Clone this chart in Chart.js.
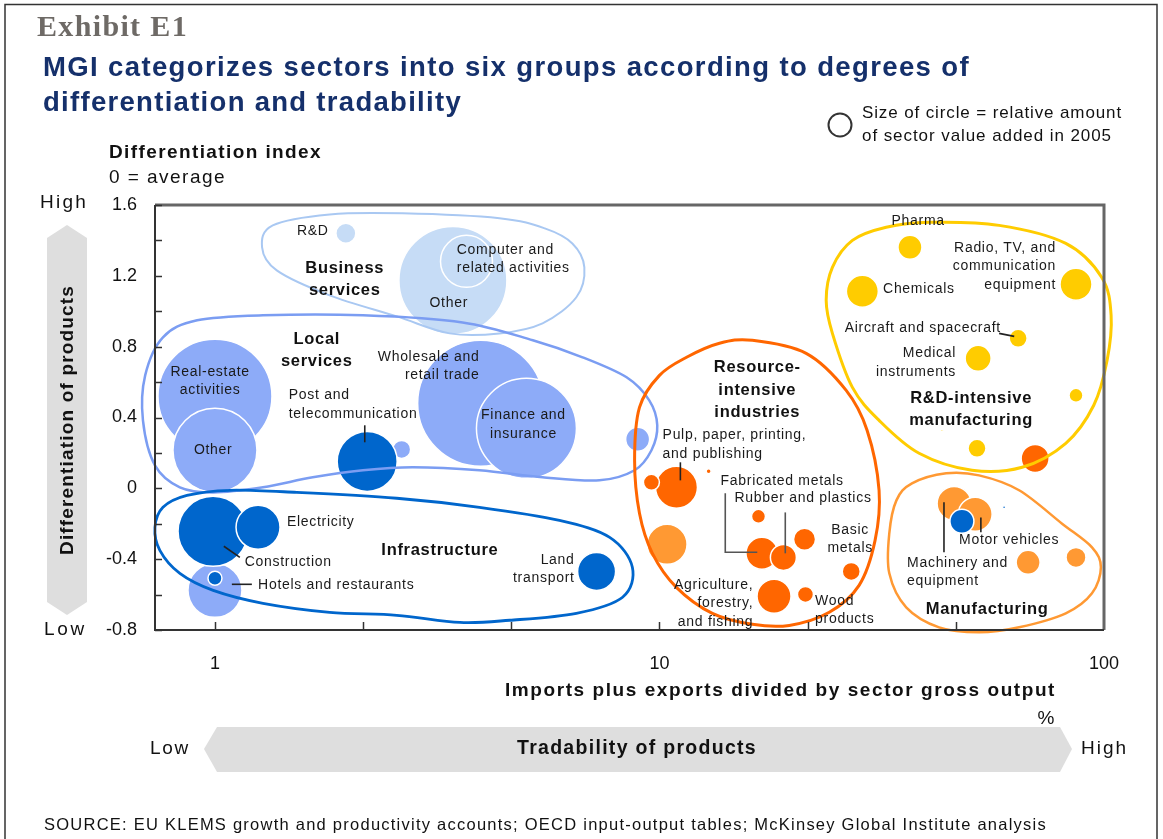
<!DOCTYPE html>
<html>
<head>
<meta charset="utf-8">
<script src="https://cdn.jsdelivr.net/npm/chart.js@4.4.1/dist/chart.umd.min.js"></script>
<style>
html,body{margin:0;padding:0;background:#fff;}
canvas{display:block;}
</style>
</head>
<body>
<canvas id="c" width="1163" height="839"></canvas>
<script>
// ---------------- DATA ----------------
// x = imports plus exports divided by sector gross output (%), y = differentiation index,
// size = bubble radius standing for relative sector value added (2005)
const businessNames = ['Other business services', 'Computer and related activities', 'R&D'];
const businessX = [3.43, 3.68, 1.97];
const businessY = [1.174, 1.282, 1.44];
const businessSize = [54, 26, 10];

const localNames = ['Real-estate activities', 'Other local services', 'Wholesale and retail trade', 'Finance and insurance', 'Hotels and restaurants', 'Other local sector', 'Other local sector 2'];
const localX = [1.0, 1.0, 3.96, 5.02, 1.0, 2.63, 8.93];
const localY = [0.52, 0.215, 0.48, 0.339, -0.576, 0.22, 0.277];
const localSize = [57, 42, 63, 50, 27, 9, 12];

const infraNames = ['Post and telecommunication', 'Construction', 'Electricity', 'Other infrastructure', 'Land transport', 'Other infrastructure 2', 'Other infrastructure 3'];
const infraX = [2.2, 0.99, 1.25, 1.0, 7.22, 47.9, 59.6];
const infraY = [0.152, -0.243, -0.22, -0.508, -0.469, -0.186, -0.107];
const infraSize = [30, 35, 22, 7, 19, 12, 1.5];

const resourceNames = ['Pulp, paper, printing, and publishing', 'Other resource 1', 'Other resource 2', 'Other resource 3', 'Fabricated metals', 'Rubber and plastics', 'Other resource 4', 'Basic metals', 'Agriculture, forestry, and fishing', 'Wood products', 'Other resource 5'];
const resourceX = [10.92, 9.59, 12.9, 16.7, 17.0, 19.0, 21.2, 27.0, 18.1, 21.3, 70.0];
const resourceY = [0.006, 0.034, 0.096, -0.158, -0.367, -0.39, -0.288, -0.469, -0.61, -0.599, 0.169];
const resourceSize = [21, 8, 2.5, 7, 16, 13, 11, 9, 17, 8, 14];

const rndNames = ['Pharma', 'Chemicals', 'Radio, TV, and communication equipment', 'Aircraft and spacecraft', 'Medical instruments', 'Other R&D-intensive 1', 'Other R&D-intensive 2', 'Other R&D-intensive 3'];
const rndX = [36.6, 28.6, 86.5, 64.1, 52.1, 86.5, 51.8, 43.2];
const rndY = [1.361, 1.113, 1.152, 0.847, 0.734, 0.525, 0.226, 0.327];
const rndSize = [12, 16, 16, 9, 13, 7, 9, 1.2];

const manufNames = ['Machinery and equipment', 'Motor vehicles', 'Other manufacturing 1', 'Other manufacturing 2', 'Other manufacturing 3'];
const manufX = [46.0, 51.3, 67.5, 86.5, 10.4];
const manufY = [-0.085, -0.147, -0.418, -0.39, -0.316];
const manufSize = [17, 17, 12, 10, 20];

const xTickValues = [1, 10, 100];
const xTickLabels = ['1', '10', '100'];
const yTickValues = [-0.8, -0.4, 0, 0.4, 0.8, 1.2, 1.6];
const yTickLabels = ['-0.8', '-0.4', '0', '0.4', '0.8', '1.2', '1.6'];

// ---------------- ANNOTATIONS (data units: [log10(x), y]) ----------------
const groupOutlines = [
  { color: '#a9c8f2', width: 2, pts: [[0.106,1.361],[0.130,1.485],[0.258,1.547],[0.422,1.553],[0.640,1.525],[0.742,1.468],[0.804,1.383],[0.831,1.248],[0.813,1.079],[0.737,0.932],[0.640,0.875],[0.528,0.875],[0.409,0.971],[0.258,1.090],[0.139,1.231]] },
  { color: '#7b9df2', width: 2.5, pts: [[-0.117,0.853],[-0.040,0.949],[0.108,0.977],[0.333,0.977],[0.557,0.937],[0.715,0.836],[0.827,0.740],[0.926,0.627],[0.977,0.497],[0.995,0.356],[0.982,0.215],[0.944,0.102],[0.865,0.045],[0.737,0.062],[0.595,0.102],[0.445,0.119],[0.333,0.102],[0.220,0.062],[0.108,0.006],[-0.004,-0.023],[-0.079,0.006],[-0.135,0.130],[-0.162,0.384],[-0.157,0.638]] },
  { color: '#0066cc', width: 2.8, pts: [[-0.135,-0.220],[-0.117,-0.107],[-0.063,-0.040],[0.034,-0.011],[0.184,-0.023],[0.409,-0.056],[0.595,-0.107],[0.775,-0.181],[0.888,-0.277],[0.939,-0.446],[0.917,-0.615],[0.813,-0.706],[0.663,-0.745],[0.551,-0.757],[0.409,-0.717],[0.258,-0.700],[0.108,-0.649],[-0.004,-0.576],[-0.079,-0.480],[-0.124,-0.350]] },
  { color: '#ff6600', width: 3, pts: [[0.944,0.158],[0.955,0.457],[1.000,0.638],[1.061,0.740],[1.135,0.819],[1.209,0.836],[1.330,0.762],[1.420,0.553],[1.467,0.328],[1.494,-0.011],[1.485,-0.294],[1.449,-0.548],[1.382,-0.700],[1.292,-0.774],[1.209,-0.768],[1.119,-0.706],[1.038,-0.559],[0.984,-0.367],[0.955,-0.141]] },
  { color: '#ffcc00', width: 3, pts: [[1.375,1.062],[1.389,1.248],[1.434,1.400],[1.510,1.474],[1.607,1.502],[1.764,1.485],[1.914,1.383],[1.995,1.191],[2.016,0.977],[2.007,0.723],[1.977,0.469],[1.914,0.254],[1.816,0.119],[1.703,0.102],[1.584,0.198],[1.494,0.384],[1.434,0.570],[1.389,0.875]] },
  { color: '#ff9933', width: 2.5, pts: [[1.568,0.028],[1.645,0.085],[1.719,0.073],[1.809,-0.011],[1.905,-0.198],[1.973,-0.333],[1.993,-0.446],[1.973,-0.593],[1.914,-0.706],[1.809,-0.785],[1.719,-0.813],[1.629,-0.785],[1.555,-0.672],[1.517,-0.480],[1.517,-0.254],[1.533,-0.068]] }
];

const sectorLabels = [
  [['R&D'], 0.220, 1.451, 'center'],
  [['Computer and', 'related activities'], 0.544, 1.293, 'left'],
  [['Other'], 0.526, 1.045, 'center'],
  [['Real-estate', 'activities'], -0.011, 0.604, 'center'],
  [['Other'], -0.004, 0.215, 'center'],
  [['Wholesale and', 'retail trade'], 0.595, 0.689, 'right'],
  [['Post and', 'telecommunication'], 0.166, 0.474, 'left'],
  [['Finance and', 'insurance'], 0.694, 0.361, 'center'],
  [['Electricity'], 0.162, -0.192, 'left'],
  [['Construction'], 0.067, -0.418, 'left'],
  [['Hotels and restaurants'], 0.097, -0.548, 'left'],
  [['Land', 'transport'], 0.809, -0.457, 'right'],
  [['Pulp, paper, printing,', 'and publishing'], 1.007, 0.248, 'left'],
  [['Fabricated metals'], 1.276, 0.040, 'center'],
  [['Rubber and plastics'], 1.323, -0.056, 'center'],
  [['Basic', 'metals'], 1.429, -0.288, 'center'],
  [['Agriculture,', 'forestry,', 'and fishing'], 1.211, -0.649, 'right'],
  [['Wood', 'products'], 1.350, -0.689, 'left'],
  [['Pharma'], 1.582, 1.508, 'center'],
  [['Radio, TV, and', 'communication', 'equipment'], 1.892, 1.254, 'right'],
  [['Chemicals'], 1.503, 1.124, 'left'],
  [['Aircraft and spacecraft'], 1.768, 0.903, 'right'],
  [['Medical', 'instruments'], 1.667, 0.711, 'right'],
  [['Machinery and', 'equipment'], 1.557, -0.474, 'left'],
  [['Motor vehicles'], 1.674, -0.294, 'left']
];

const groupLabels = [
  [['Business', 'services'], 0.292, 1.180],
  [['Local', 'services'], 0.229, 0.779],
  [['Infrastructure'], 0.506, -0.350],
  [['Resource-', 'intensive', 'industries'], 1.220, 0.553],
  [['R&D-intensive', 'manufacturing'], 1.701, 0.446],
  [['Manufacturing'], 1.737, -0.683]
];

const connectors = [
  { color: '#222', pts: [[0.337,0.356],[0.337,0.260]] },
  { color: '#222', pts: [[0.020,-0.327],[0.056,-0.390]] },
  { color: '#222', pts: [[0.038,-0.542],[0.083,-0.542]] },
  { color: '#222', pts: [[1.047,0.147],[1.047,0.045]] },
  { color: '#555', pts: [[1.148,-0.028],[1.148,-0.361],[1.220,-0.361]] },
  { color: '#555', pts: [[1.283,-0.136],[1.283,-0.367]] },
  { color: '#222', pts: [[1.764,0.875],[1.798,0.858]] },
  { color: '#222', pts: [[1.640,-0.079],[1.640,-0.361]] },
  { color: '#222', pts: [[1.723,-0.164],[1.723,-0.248]] }
];

// ---------------- HELPERS ----------------
const FONT = '"Liberation Sans", Arial, Helvetica, sans-serif';
function toPoints(xs, ys, rs) { return xs.map((x, i) => ({ x: x, y: ys[i], r: rs[i] })); }

function drawText(ctx, str, x, y, opt) {
  ctx.save();
  ctx.font = (opt.bold ? 'bold ' : '') + opt.size + 'px ' + (opt.family || FONT);
  ctx.fillStyle = opt.color || '#1a1a1a';
  ctx.textAlign = opt.align || 'left';
  ctx.textBaseline = 'middle';
  if ('letterSpacing' in ctx) {
    ctx.letterSpacing = '0px';
    let ls = opt.spacing || 0;
    if (opt.width) {
      const w = ctx.measureText(str).width;
      ls = (opt.width - w) / Math.max(1, str.length);
      ls = Math.max(-1.5, Math.min(3, ls));
    }
    ctx.letterSpacing = ls + 'px';
  }
  ctx.fillText(str, x, y);
  ctx.restore();
}

function closedSpline(ctx, p) {
  const n = p.length;
  ctx.beginPath();
  ctx.moveTo(p[0][0], p[0][1]);
  for (let i = 0; i < n; i++) {
    const p0 = p[(i - 1 + n) % n], p1 = p[i], p2 = p[(i + 1) % n], p3 = p[(i + 2) % n];
    ctx.bezierCurveTo(
      p1[0] + (p2[0] - p0[0]) / 6, p1[1] + (p2[1] - p0[1]) / 6,
      p2[0] - (p3[0] - p1[0]) / 6, p2[1] - (p3[1] - p1[1]) / 6,
      p2[0], p2[1]);
  }
  ctx.closePath();
  ctx.stroke();
}

// ---------------- DECORATION PLUGIN ----------------
const decor = {
  id: 'decor',
  beforeDraw(chart) {
    const ctx = chart.ctx;
    ctx.save();
    ctx.fillStyle = '#fff';
    ctx.fillRect(0, 0, chart.width, chart.height);
    // outer frame
    ctx.strokeStyle = '#333'; ctx.lineWidth = 1.5;
    ctx.beginPath();
    ctx.moveTo(5, 839); ctx.lineTo(5, 4.5); ctx.lineTo(1157, 4.5); ctx.lineTo(1157, 839);
    ctx.stroke();
    // header texts
    drawText(ctx, 'Exhibit E1', 37, 28, { size: 30, bold: true, family: '"Liberation Serif", Georgia, serif', color: '#6e6a66', width: 151 });
    drawText(ctx, 'MGI categorizes sectors into six groups according to degrees of', 43, 68, { size: 27.5, bold: true, color: '#15306b', width: 927 });
    drawText(ctx, 'differentiation and tradability', 43, 103, { size: 27.5, bold: true, color: '#15306b', width: 419 });
    drawText(ctx, 'Differentiation index', 109, 153, { size: 19, bold: true, color: '#111', width: 213 });
    drawText(ctx, '0 = average', 109, 178, { size: 19, color: '#111', width: 117 });
    // legend
    ctx.strokeStyle = '#333'; ctx.lineWidth = 2;
    ctx.beginPath(); ctx.arc(840, 125, 11.5, 0, Math.PI * 2); ctx.stroke();
    drawText(ctx, 'Size of circle = relative amount', 862, 113, { size: 17, color: '#111', width: 260 });
    drawText(ctx, 'of sector value added in 2005', 862, 136, { size: 17, color: '#111', width: 250 });
    // y arrow
    ctx.fillStyle = '#dedede';
    ctx.beginPath();
    ctx.moveTo(47, 238); ctx.lineTo(67, 225); ctx.lineTo(87, 238); ctx.lineTo(87, 602); ctx.lineTo(67, 615); ctx.lineTo(47, 602);
    ctx.closePath(); ctx.fill();
    ctx.save();
    ctx.translate(68, 420); ctx.rotate(-Math.PI / 2);
    drawText(ctx, 'Differentiation of products', 0, 0, { size: 19, bold: true, align: 'center', color: '#111', width: 270 });
    ctx.restore();
    drawText(ctx, 'High', 40, 203, { size: 19, color: '#111', width: 48 });
    drawText(ctx, 'Low', 44, 630, { size: 19, color: '#111', width: 43 });
    // x axis title
    drawText(ctx, 'Imports plus exports divided by sector gross output', 1056, 691, { size: 19, bold: true, align: 'right', color: '#111', width: 551 });
    drawText(ctx, '%', 1046, 719, { size: 19, align: 'center', color: '#111' });
    // x arrow
    ctx.fillStyle = '#dedede';
    ctx.beginPath();
    ctx.moveTo(204, 749); ctx.lineTo(217, 727); ctx.lineTo(1060, 727); ctx.lineTo(1072, 749); ctx.lineTo(1060, 772); ctx.lineTo(217, 772);
    ctx.closePath(); ctx.fill();
    drawText(ctx, 'Tradability of products', 637, 749, { size: 19.5, bold: true, align: 'center', color: '#111', width: 240 });
    drawText(ctx, 'Low', 150, 749, { size: 19, color: '#111', width: 40 });
    drawText(ctx, 'High', 1081, 749, { size: 19, color: '#111', width: 47 });
    // source
    drawText(ctx, 'SOURCE: EU KLEMS growth and productivity accounts; OECD input-output tables; McKinsey Global Institute analysis', 44, 825, { size: 16.5, color: '#111', width: 1003 });
    ctx.restore();
  },
  afterDraw(chart) {
    const ctx = chart.ctx;
    const xs = chart.scales.x, ys = chart.scales.y;
    const px = (lx) => xs.getPixelForValue(Math.pow(10, lx));
    const py = (v) => ys.getPixelForValue(v);
    const a = chart.chartArea;
    ctx.save();
    // group outlines
    groupOutlines.forEach(g => {
      ctx.strokeStyle = g.color; ctx.lineWidth = g.width;
      closedSpline(ctx, g.pts.map(p => [px(p[0]), py(p[1])]));
    });
    // connectors
    connectors.forEach(c => {
      ctx.strokeStyle = c.color; ctx.lineWidth = 1.6;
      ctx.beginPath();
      c.pts.forEach((p, i) => { const X = px(p[0]), Y = py(p[1]); if (i) ctx.lineTo(X, Y); else ctx.moveTo(X, Y); });
      ctx.stroke();
    });
    // sector labels
    sectorLabels.forEach(l => {
      const lines = l[0], n = lines.length, lh = 18.5;
      const X = px(l[1]), Y = py(l[2]);
      lines.forEach((t, i) => drawText(ctx, t, X, Y + (i - (n - 1) / 2) * lh, { size: 14, align: l[3], color: '#1a1a1a', spacing: 0.7 }));
    });
    groupLabels.forEach(l => {
      const lines = l[0], n = lines.length, lh = 22.5;
      const X = px(l[1]), Y = py(l[2]);
      lines.forEach((t, i) => drawText(ctx, t, X, Y + (i - (n - 1) / 2) * lh, { size: 16.5, bold: true, align: 'center', color: '#111', spacing: 0.7 }));
    });
    // plot frame
    ctx.lineCap = 'butt';
    ctx.strokeStyle = '#666'; ctx.lineWidth = 3;
    ctx.beginPath(); ctx.moveTo(a.left, a.top); ctx.lineTo(a.right, a.top); ctx.lineTo(a.right, a.bottom); ctx.stroke();
    ctx.strokeStyle = '#333'; ctx.lineWidth = 2;
    ctx.beginPath(); ctx.moveTo(a.left, a.top); ctx.lineTo(a.left, a.bottom); ctx.lineTo(a.right, a.bottom); ctx.stroke();
    // inward tick marks
    ctx.lineWidth = 1.5; ctx.strokeStyle = '#333';
    for (let v = ys.min; v <= ys.max + 1e-9; v += 0.2) {
      const Y = Math.round(py(v)) + 0.5;
      ctx.beginPath(); ctx.moveTo(a.left, Y); ctx.lineTo(a.left + 7, Y); ctx.stroke();
    }
    for (let k = 0; k < 6; k++) {
      const X = Math.round(xs.getPixelForValue(Math.pow(10, k / 3))) + 0.5;
      ctx.beginPath(); ctx.moveTo(X, a.bottom); ctx.lineTo(X, a.bottom - 8); ctx.stroke();
    }
    ctx.restore();
  }
};

// ---------------- CHART ----------------
const bubbleStyle = (color) => ({ backgroundColor: color, borderColor: '#ffffff', borderWidth: 1.5, hoverRadius: 0, hoverBorderWidth: 1.5, hoverBackgroundColor: color });

new Chart(document.getElementById('c').getContext('2d'), {
  type: 'bubble',
  data: {
    datasets: [
      Object.assign({ label: 'Infrastructure', data: toPoints(infraX, infraY, infraSize) }, bubbleStyle('#0066cc')),
      Object.assign({ label: 'Business services', data: toPoints(businessX, businessY, businessSize) }, bubbleStyle('#c6dcf6')),
      Object.assign({ label: 'Local services', data: toPoints(localX, localY, localSize) }, bubbleStyle('#8dabf8')),
      Object.assign({ label: 'Resource-intensive industries', data: toPoints(resourceX, resourceY, resourceSize) }, bubbleStyle('#ff6600')),
      Object.assign({ label: 'R&D-intensive manufacturing', data: toPoints(rndX, rndY, rndSize) }, bubbleStyle('#ffcc00')),
      Object.assign({ label: 'Manufacturing', data: toPoints(manufX, manufY, manufSize) }, bubbleStyle('#ff9933'))
    ]
  },
  options: {
    responsive: false,
    animation: false,
    events: [],
    layout: { autoPadding: false, padding: { top: 205, right: 59, left: 0, bottom: 149 } },
    plugins: { legend: { display: false }, tooltip: { enabled: false } },
    scales: {
      x: {
        type: 'logarithmic', min: 0.733, max: 100, bounds: 'data',
        grid: { display: false, drawTicks: false }, border: { display: false },
        afterBuildTicks: (s) => { s.ticks = xTickValues.map(v => ({ value: v })); },
        afterFit: (s) => { s.height = 60; s.paddingLeft = 0; s.paddingRight = 0; },
        ticks: { padding: 23, autoSkip: false, maxRotation: 0, color: '#111', font: { family: FONT, size: 18 },
                 callback: (v, i) => xTickLabels[i] }
      },
      y: {
        type: 'linear', min: -0.8, max: 1.6, bounds: 'data',
        grid: { display: false, drawTicks: false }, border: { display: false },
        afterBuildTicks: (s) => { s.ticks = yTickValues.map(v => ({ value: v })); },
        afterFit: (s) => { s.width = 155; s.paddingTop = 0; s.paddingBottom = 0; },
        ticks: { padding: 18, autoSkip: false, color: '#111', font: { family: FONT, size: 18 },
                 callback: (v, i) => yTickLabels[i] }
      }
    }
  },
  plugins: [decor]
});
</script>
</body>
</html>
